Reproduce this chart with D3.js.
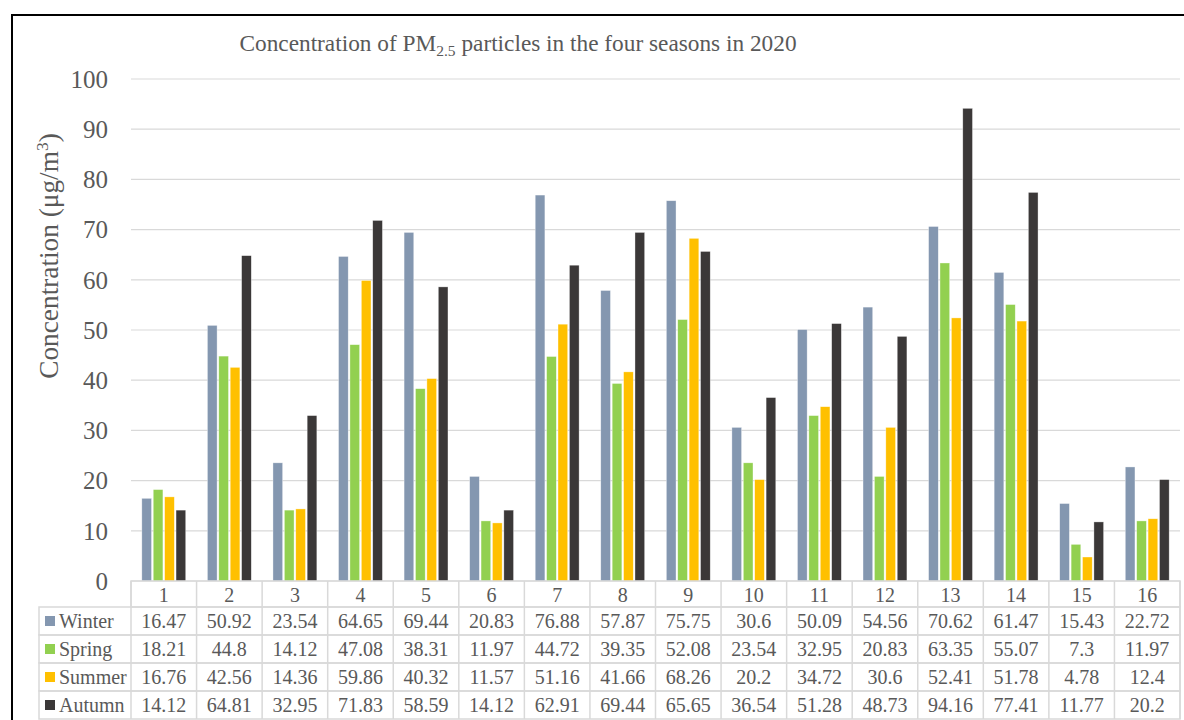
<!DOCTYPE html>
<html><head><meta charset="utf-8">
<script src="https://cdn.jsdelivr.net/npm/d3@7"></script>
<style>body{margin:0;background:#fff}svg{display:block}</style>
</head><body>
<svg id="c" width="1184" height="720"></svg>
<script>
const categories = ["1","2","3","4","5","6","7","8","9","10","11","12","13","14","15","16"];
const seriesNames = ["Winter","Spring","Summer","Autumn"];
const winter = [16.47,50.92,23.54,64.65,69.44,20.83,76.88,57.87,75.75,30.6,50.09,54.56,70.62,61.47,15.43,22.72];
const spring = [18.21,44.8,14.12,47.08,38.31,11.97,44.72,39.35,52.08,23.54,32.95,20.83,63.35,55.07,7.3,11.97];
const summer = [16.76,42.56,14.36,59.86,40.32,11.57,51.16,41.66,68.26,20.2,34.72,30.6,52.41,51.78,4.78,12.4];
const autumn = [14.12,64.81,32.95,71.83,58.59,14.12,62.91,69.44,65.65,36.54,51.28,48.73,94.16,77.41,11.77,20.2];
const yTicks = [0,10,20,30,40,50,60,70,80,90,100];
const colors = ["#8497B0","#92D050","#FFC000","#3B3838"];
const series = [winter, spring, summer, autumn];

const svg = d3.select("#c");
const font = "'Liberation Serif','Times New Roman',serif";
const txt = "#595959";
const L = 131, R = 1180, T = 79, B = 581;

// outer frame
svg.append("path").attr("d", `M12,720 V15 H1184`).attr("fill","none").attr("stroke","#000").attr("stroke-width",2);

const x = d3.scaleBand().domain(categories).range([L,R]).paddingInner(0).paddingOuter(0);
const y = d3.scaleLinear().domain([0,100]).range([B,T]);
const xs = d3.scaleBand().domain(seriesNames).range([0,x.bandwidth()]).paddingInner(0.15).paddingOuter(0.95);

// gridlines
svg.append("g").selectAll("line").data(yTicks).join("line")
  .attr("x1",L).attr("x2",R).attr("y1",d=>y(d)).attr("y2",d=>y(d))
  .attr("stroke","#d9d9d9").attr("stroke-width",1.2);

// y axis labels
const yAxis = d3.axisLeft(y).tickValues(yTicks).tickSize(0).tickPadding(0);
const ya = svg.append("g").attr("transform",`translate(108,0)`).call(yAxis);
ya.select(".domain").remove();
ya.selectAll("text").attr("font-family",font).attr("font-size",25).attr("fill",txt).attr("dy","0.33em");

// bars
const g = svg.append("g");
series.forEach((s,si)=>{
  g.append("g").selectAll("rect").data(s).join("rect")
    .attr("x",(d,i)=>x(categories[i])+xs(seriesNames[si]))
    .attr("width",xs.bandwidth())
    .attr("y",d=>y(d)).attr("height",d=>y(0)-y(d))
    .attr("fill",colors[si]).attr("stroke","#fff").attr("stroke-width",0.6).attr("stroke-opacity",0.6);
});

// title
const title = svg.append("text").attr("x",518).attr("y",51).attr("text-anchor","middle")
  .attr("font-family",font).attr("font-size",23.3).attr("fill",txt);
title.append("tspan").text("Concentration of PM");
title.append("tspan").text("2.5").attr("font-size",15.5).attr("dy",5);
title.append("tspan").text(" particles in the four seasons in 2020").attr("dy",-5);

// y title
const yt = svg.append("text").attr("transform","translate(58,256) rotate(-90)").attr("text-anchor","middle")
  .attr("font-family",font).attr("font-size",27.3).attr("fill",txt);
yt.append("tspan").text("Concentration (μg/m");
yt.append("tspan").text("3").attr("font-size",17.5).attr("dy",-10);
yt.append("tspan").text(")").attr("dy",10);

// data table
const rowH = 28, headTop = B, rowTop = 607;
const tbl = svg.append("g");
const gridC = "#d9d9d9";
tbl.append("rect").attr("x",L).attr("y",headTop).attr("width",R-L).attr("height",rowTop-headTop).attr("fill","none").attr("stroke",gridC).attr("stroke-width",1.5);
seriesNames.forEach((n,si)=>{
  tbl.append("rect").attr("x",39).attr("y",rowTop+si*rowH).attr("width",R-39).attr("height",rowH)
   .attr("fill","none").attr("stroke",gridC).attr("stroke-width",1.5);
});
tbl.selectAll("line.v").data(categories.concat(["end"])).join("line").attr("class","v")
  .attr("x1",(d,i)=>L+i*x.bandwidth()).attr("x2",(d,i)=>L+i*x.bandwidth())
  .attr("y1",headTop).attr("y2",rowTop+4*rowH).attr("stroke",gridC).attr("stroke-width",1.5);
tbl.selectAll("text.h").data(categories).join("text").attr("class","h")
  .attr("x",d=>x(d)+x.bandwidth()/2).attr("y",headTop+21).attr("text-anchor","middle")
  .attr("font-family",font).attr("font-size",20).attr("fill",txt).text(d=>d);
seriesNames.forEach((n,si)=>{
  const cy = rowTop+si*rowH+rowH/2;
  tbl.append("rect").attr("x",45).attr("y",cy-5).attr("width",10).attr("height",10).attr("fill",colors[si]);
  tbl.append("text").attr("x",59).attr("y",cy+7).attr("font-family",font).attr("font-size",20).attr("fill",txt).text(n);
  tbl.append("g").selectAll("text").data(series[si]).join("text")
    .attr("x",(d,i)=>x(categories[i])+x.bandwidth()/2).attr("y",cy+7).attr("text-anchor","middle")
    .attr("font-family",font).attr("font-size",20).attr("fill",txt).text(d=>String(d));
});
</script>
</body></html>
